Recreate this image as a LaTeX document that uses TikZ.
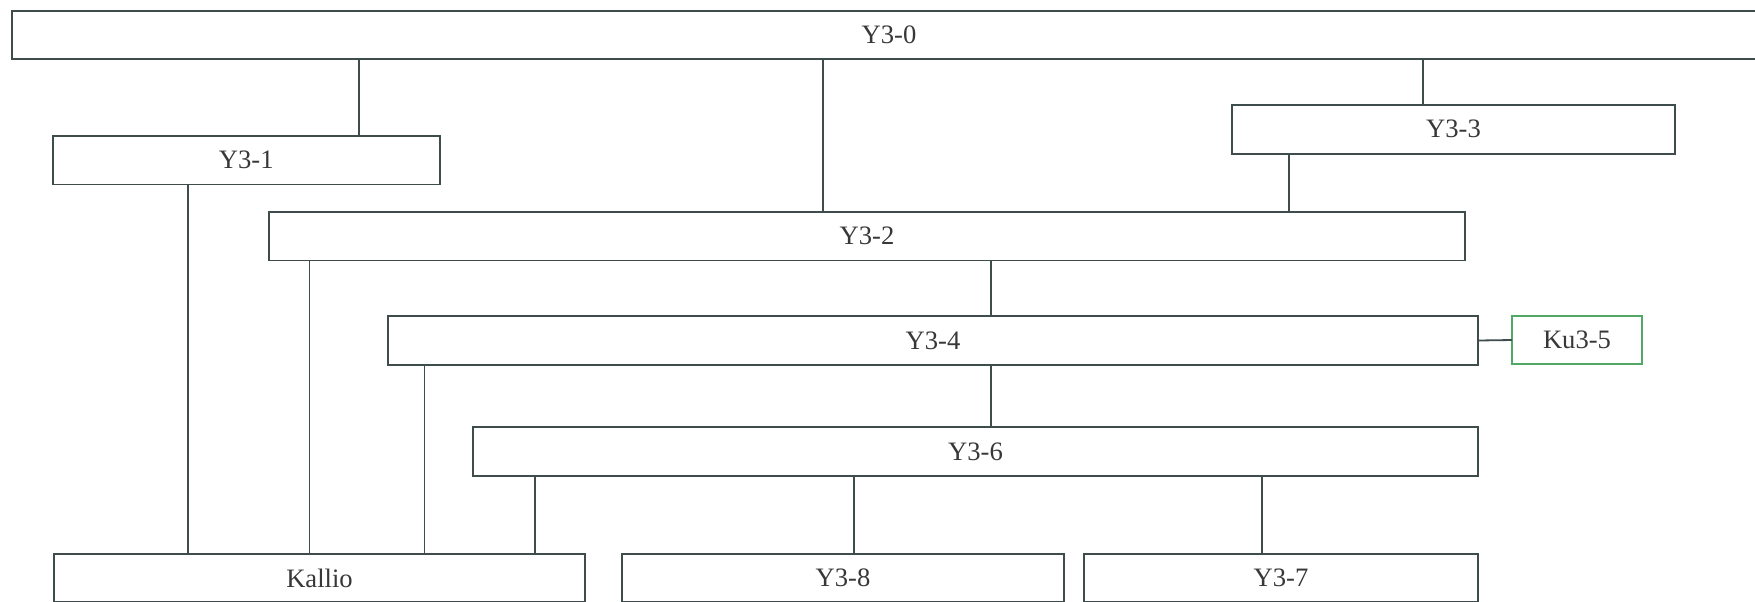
\documentclass[tikz,border=0pt]{standalone}
\usepackage{fontspec}
\setmainfont{Liberation Serif}
\definecolor{linec}{HTML}{3E4C4C}
\definecolor{textc}{HTML}{383838}
\definecolor{greenc}{HTML}{52A866}
\begin{document}
\begin{tikzpicture}[x=0.5pt,y=-0.5pt,
  box/.style={draw=linec,line width=0.9pt,rectangle,inner sep=0pt,outer sep=0pt,
    text=textc,font=\fontsize{13.3}{16}\selectfont},
  gbox/.style={box,draw=greenc},
  conn/.style={draw=linec,line width=0.9pt}]
\useasboundingbox (0,0) rectangle (1755,601);
\fill[white] (0,0) rectangle (1755,601);
% boxes: centre in px (1px = 0.5pt)
\node[box,minimum width=877pt,minimum height=24.2pt] (Y30) at (889,34.8) {Y3-0};
\node[box,minimum width=193.5pt,minimum height=24.2pt] (Y31) at (246.3,160.2) {Y3-1};
\node[box,minimum width=221.5pt,minimum height=24.5pt] (Y33) at (1453.5,129.2) {Y3-3};
\node[box,minimum width=598pt,minimum height=24.2pt] (Y32) at (867,236.2) {Y3-2};
\node[box,minimum width=545pt,minimum height=24.2pt] (Y34) at (933,340.5) {Y3-4};
\node[gbox,minimum width=65pt,minimum height=24.2pt] (Ku35) at (1577,340) {Ku3-5};
\node[box,minimum width=502.5pt,minimum height=24.2pt] (Y36) at (975.5,451.5) {Y3-6};
\node[box,minimum width=265.5pt,minimum height=24pt] (Kallio) at (319.5,578) {Kallio};
\node[box,minimum width=221pt,minimum height=24pt] (Y38) at (843,578) {Y3-8};
\node[box,minimum width=197pt,minimum height=24pt] (Y37) at (1281,578) {Y3-7};
% connector columns
\coordinate (c1) at (359,0);
\coordinate (c2) at (823,0);
\coordinate (c3) at (1423,0);
\coordinate (c4) at (1289,0);
\coordinate (c5) at (188,0);
\coordinate (c6) at (309.5,0);
\coordinate (c7) at (991,0);
\coordinate (c8) at (424.5,0);
\coordinate (c9) at (535,0);
\coordinate (c10) at (854,0);
\coordinate (c11) at (1262,0);
\draw[conn] (c1 |- Y30.south) -- (c1 |- Y31.north);
\draw[conn] (c2 |- Y30.south) -- (c2 |- Y32.north);
\draw[conn] (c3 |- Y30.south) -- (c3 |- Y33.north);
\draw[conn] (c4 |- Y33.south) -- (c4 |- Y32.north);
\draw[conn] (c5 |- Y31.south) -- (c5 |- Kallio.north);
\draw[conn] (c6 |- Y32.south) -- (c6 |- Kallio.north);
\draw[conn] (c7 |- Y32.south) -- (c7 |- Y34.north);
\draw[conn] (c8 |- Y34.south) -- (c8 |- Kallio.north);
\draw[conn] (c7 |- Y34.south) -- (c7 |- Y36.north);
\draw[conn] (c9 |- Y36.south) -- (c9 |- Kallio.north);
\draw[conn] (c10 |- Y36.south) -- (c10 |- Y38.north);
\draw[conn] (c11 |- Y36.south) -- (c11 |- Y37.north);
\draw[conn] (Y34.east) -- (Ku35.west);
\end{tikzpicture}
\end{document}
